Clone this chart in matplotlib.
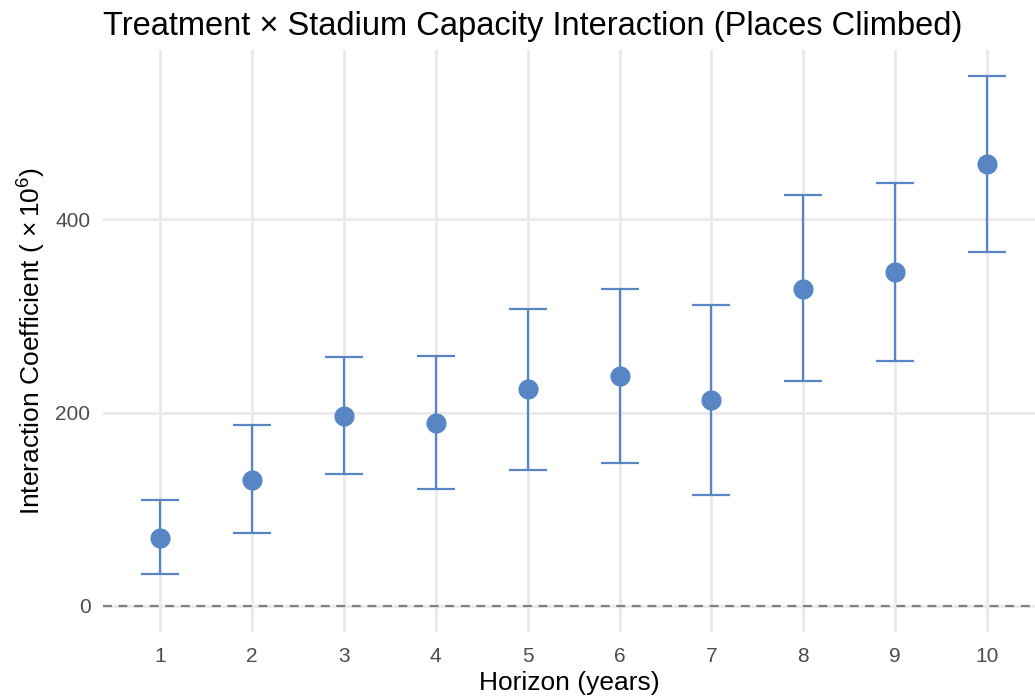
import matplotlib
matplotlib.use("Agg")
import matplotlib.pyplot as plt
import numpy as np

plt.rcParams['font.family'] = ['Liberation Sans', 'DejaVu Sans']
plt.rcParams['mathtext.fontset'] = 'custom'
plt.rcParams['mathtext.rm'] = 'Liberation Sans'

# interaction estimates per horizon, scaled by 1e6
horizon = [1, 2, 3, 4, 5, 6, 7, 8, 9, 10]
coef = [70.5, 130.6, 196.9, 189.6, 224.9, 238.3, 213.5, 328.5, 346.0, 458.0]
ci_low = [33.2, 75.6, 136.8, 121.2, 141.0, 148.2, 115.0, 233.2, 253.9, 366.8]
ci_high = [109.8, 187.6, 258.0, 259.0, 307.8, 327.5, 311.9, 424.9, 437.3, 548.2]

col = '#5886C4'
grid_col = '#EBEBEB'

fig = plt.figure(figsize=(10.35, 7.0), dpi=100)
ax = fig.add_axes([0.0995, 0.097, 0.9005, 0.8316])

x = np.array(horizon)
y = np.array(coef)
yerr = [y - np.array(ci_low), np.array(ci_high) - y]

ax.axhline(0, color='#808080', lw=1.6, ls=(0, (4, 3)), zorder=2)
ax.errorbar(x, y, yerr=yerr, fmt='none', ecolor=col, elinewidth=1.6,
            capsize=14, capthick=1.6, zorder=3)
ax.plot(x, y, 'o', color=col, markersize=14.5, markeredgewidth=0, zorder=4)

ax.set_xlim(0.38, 10.52)
ax.set_ylim(-27.4, 575.6)
ax.set_xticks(horizon)
ax.set_yticks([0, 200, 400])

ax.grid(True, color=grid_col, lw=2.2, zorder=0)
ax.set_axisbelow(True)
for s in ax.spines.values():
    s.set_visible(False)
ax.tick_params(length=0, labelsize=15, colors='#4D4D4D')
ax.tick_params(axis='x', pad=10.5)
ax.tick_params(axis='y', pad=9)

ax.set_xlabel('Horizon (years)', fontsize=19, color='black', labelpad=4)
ax.set_ylabel(r'Interaction Coefficient ( $\times\,10^6$)', fontsize=19,
              color='black', labelpad=6)
ax.set_title('Treatment \u00d7 Stadium Capacity Interaction (Places Climbed)',
             loc='left', fontsize=23.5, pad=11)

fig.savefig('out.png', dpi=100)
